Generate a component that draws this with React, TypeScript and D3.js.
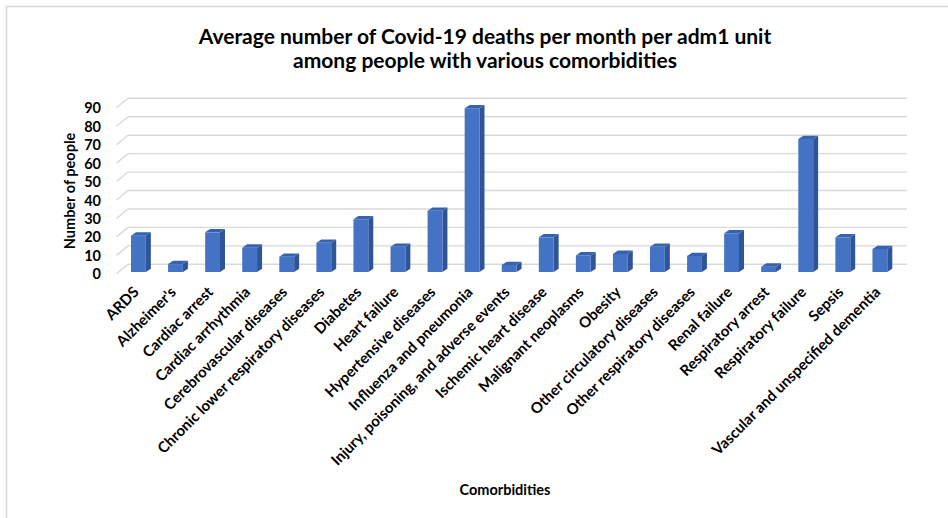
import * as d3 from "d3";
import { useRef, useEffect } from "react";

const categories = [
  "ARDS",
  "Alzheimer's",
  "Cardiac arrest",
  "Cardiac arrhythmia",
  "Cerebrovascular diseases",
  "Chronic lower respiratory diseases",
  "Diabetes",
  "Heart failure",
  "Hypertensive diseases",
  "Influenza and pneumonia",
  "Injury, poisoning, and adverse events",
  "Ischemic heart disease",
  "Malignant neoplasms",
  "Obesity",
  "Other circulatory diseases",
  "Other respiratory diseases",
  "Renal failure",
  "Respiratory arrest",
  "Respiratory failure",
  "Sepsis",
  "Vascular and unspecified dementia",
];

const deaths = [
  19.7, 4.3, 21.5, 13.2, 8.3, 15.8, 28.6, 13.7, 33.2, 88.8, 3.8, 18.8, 9.0,
  9.8, 13.7, 8.7, 21.0, 2.9, 72.1, 18.8, 12.5,
];

const yTicks = [0, 10, 20, 30, 40, 50, 60, 70, 80, 90];

const W = 948;
const H = 518;
const font = "Lato, 'Noto Sans', sans-serif";

// back wall of the 3d plot
const wall = { left: 128, right: 907, bottom: 264.3, top: 98.3 };
// where the bars stand (front base) and bar depth
const barBase = 272;
const depth = { dx: 5, dy: -3.3 };
// left side wall diagonal
const side = { dx: -11.5, dy: 9.5 };

const App = () => {
  const ref = useRef<SVGSVGElement>(null);

  useEffect(() => {
    const svg = d3.select(ref.current);
    svg.selectAll("*").remove();

    const yBack = d3.scaleLinear().domain([0, 90]).range([wall.bottom, wall.top]);
    const k = (wall.bottom - wall.top) / 90;
    const yFront = (v: number) => barBase - v * k;

    const x = d3
      .scaleBand()
      .domain(categories)
      .range([119.9, 898.4])
      .paddingInner(0.6)
      .paddingOuter(0.3);

    // frame
    svg
      .append("rect")
      .attr("x", 6.5)
      .attr("y", 6.5)
      .attr("width", W)
      .attr("height", H)
      .attr("fill", "#fff")
      .attr("stroke", "#d9d9d9")
      .attr("stroke-width", 1.5);

    // gridlines
    const grid = svg.append("g").attr("stroke", "#d9d9d9").attr("stroke-width", 1.4);
    grid
      .selectAll("line.h")
      .data(yTicks)
      .enter()
      .append("line")
      .attr("x1", wall.left)
      .attr("x2", wall.right)
      .attr("y1", (d) => yBack(d))
      .attr("y2", (d) => yBack(d));
    grid
      .selectAll("line.d")
      .data(yTicks)
      .enter()
      .append("line")
      .attr("x1", wall.left)
      .attr("x2", wall.left + side.dx)
      .attr("y1", (d) => yBack(d))
      .attr("y2", (d) => yBack(d) + side.dy);

    // y tick labels
    svg
      .append("g")
      .selectAll("text")
      .data(yTicks)
      .enter()
      .append("text")
      .attr("x", 101)
      .attr("y", (d) => yBack(d) + side.dy + 0.5)
      .attr("dy", "0.35em")
      .attr("text-anchor", "end")
      .attr("font-family", font)
      .attr("font-weight", "bold")
      .attr("font-size", 14.5)
      .attr("fill", "#000")
      .text((d) => d);

    // bars
    const bw = x.bandwidth();
    const bars = svg.append("g").selectAll("g").data(categories).enter().append("g");
    bars
      .append("polygon")
      .attr("fill", "#2F5597")
      .attr("points", (c, i) => {
        const x0 = x(c)! + bw;
        const t = yFront(deaths[i]);
        return [
          [x0, t],
          [x0 + depth.dx, t + depth.dy],
          [x0 + depth.dx, barBase + depth.dy],
          [x0, barBase],
        ].join(" ");
      });
    bars
      .append("polygon")
      .attr("fill", "#3762B0")
      .attr("points", (c, i) => {
        const x0 = x(c)!;
        const t = yFront(deaths[i]);
        return [
          [x0, t],
          [x0 + depth.dx, t + depth.dy],
          [x0 + bw + depth.dx, t + depth.dy],
          [x0 + bw, t],
        ].join(" ");
      });
    bars
      .append("rect")
      .attr("fill", "#4472C4")
      .attr("x", (c) => x(c)!)
      .attr("y", (c, i) => yFront(deaths[i]))
      .attr("width", bw)
      .attr("height", (c, i) => barBase - yFront(deaths[i]));

    // x labels
    svg
      .append("g")
      .selectAll("text")
      .data(categories)
      .enter()
      .append("text")
      .attr("transform", (c) => `translate(${x(c)! + bw / 2 + 1.5},293) rotate(-45)`)
      .attr("text-anchor", "end")
      .attr("font-family", font)
      .attr("font-weight", "bold")
      .attr("font-size", 15)
      .attr("fill", "#000")
      .text((c) => c);

    // titles
    const title = svg
      .append("text")
      .attr("text-anchor", "middle")
      .attr("font-family", font)
      .attr("font-weight", "bold")
      .attr("font-size", 21)
      .attr("fill", "#000");
    title.append("tspan").attr("x", 485).attr("y", 44).text("Average number of Covid-19 deaths per month per adm1 unit");
    title.append("tspan").attr("x", 485).attr("y", 68).text("among people with various comorbidities");

    svg
      .append("text")
      .attr("transform", "translate(75,191) rotate(-90)")
      .attr("text-anchor", "middle")
      .attr("font-family", font)
      .attr("font-weight", "bold")
      .attr("font-size", 14.5)
      .attr("fill", "#000")
      .text("Number of people");

    svg
      .append("text")
      .attr("x", 505)
      .attr("y", 495)
      .attr("text-anchor", "middle")
      .attr("font-family", font)
      .attr("font-weight", "bold")
      .attr("font-size", 14.5)
      .attr("fill", "#000")
      .text("Comorbidities");
  }, []);

  return (
    <svg
      ref={ref}
      width={W}
      height={H}
      style={{ position: "absolute", left: 0, top: 0, background: "#fff" }}
    />
  );
};

export default App;
